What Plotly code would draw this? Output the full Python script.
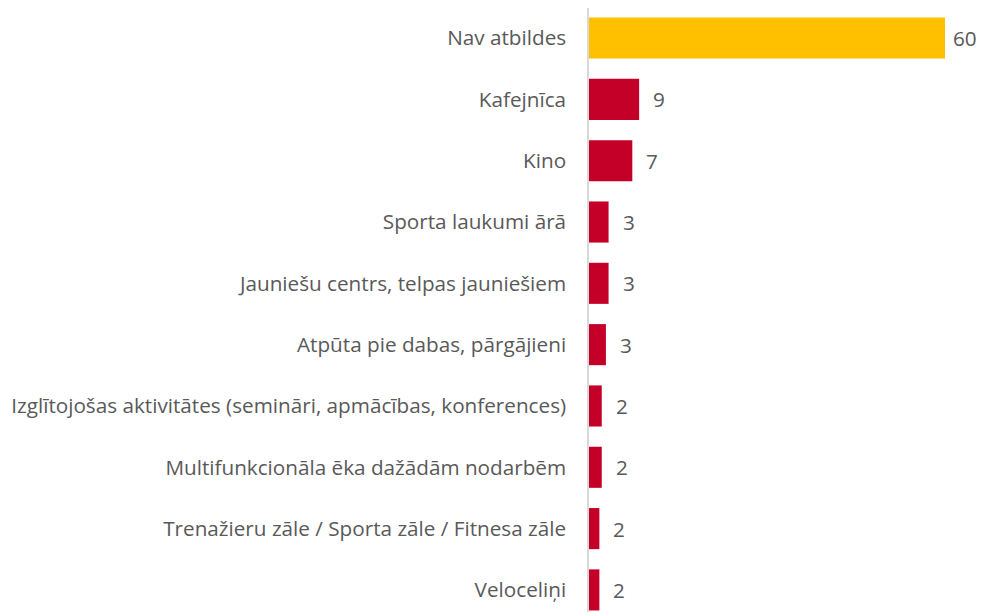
import plotly.graph_objects as go

categories = [
    "Nav atbildes",
    "Kafejnīca",
    "Kino",
    "Sporta laukumi ārā",
    "Jauniešu centrs, telpas jauniešiem",
    "Atpūta pie dabas, pārgājieni",
    "Izglītojošas aktivitātes (semināri, apmācības, konferences)",
    "Multifunkcionāla ēka dažādām nodarbēm",
    "Trenažieru zāle / Sporta zāle / Fitnesa zāle",
    "Veloceliņi",
]
values = [60, 8.45, 7.3, 3.3, 3.3, 2.85, 2.15, 2.15, 1.75, 1.75]
labels = ["60", "9", "7", "3", "3", "3", "2", "2", "2", "2"]
colors = ["#FFC000"] + ["#C40029"] * 9

font_family = "Open Sans, sans-serif"
grey = "#595959"
fsize = 20.7

fig = go.Figure(
    go.Bar(
        x=values,
        y=categories,
        orientation="h",
        marker=dict(color=colors, line=dict(width=0)),
        width=0.67,
        hoverinfo="skip",
    )
)

for c, v, t in zip(categories, values, labels):
    fig.add_annotation(
        x=v, y=c, text=t, showarrow=False, xanchor="left", yanchor="middle",
        xshift=12 if len(t) == 1 else 6,
        font=dict(family=font_family, size=fsize, color=grey),
    )

fig.update_layout(
    width=979,
    height=604,
    margin=dict(l=581, r=42, t=0, b=0),
    paper_bgcolor="white",
    plot_bgcolor="white",
    showlegend=False,
    font=dict(family=font_family, size=fsize, color=grey),
    xaxis=dict(range=[0, 60], visible=False, showgrid=False, zeroline=False),
    yaxis=dict(
        type="category",
        range=[9.36, -0.49],
        showgrid=False,
        zeroline=False,
        showline=True,
        linecolor="#D9D9D9",
        linewidth=1.5,
        ticks="",
        ticklabelstandoff=17,
        tickfont=dict(family=font_family, size=fsize, color=grey),
    ),
)

fig.write_html("out.html")
